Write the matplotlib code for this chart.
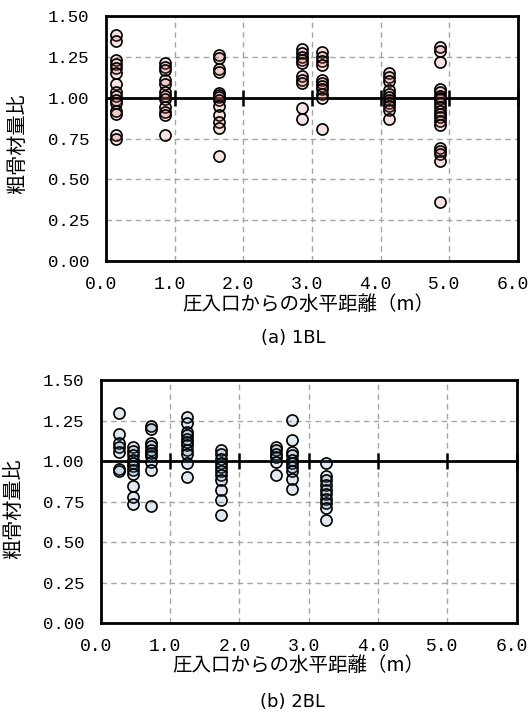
import matplotlib
matplotlib.use("Agg")
import matplotlib.pyplot as plt
import matplotlib.transforms as mtransforms
import numpy as np

plt.rcParams['font.family'] = ['Noto Sans CJK JP', 'DejaVu Sans']

# 1BL: x position of each measuring column and the ratios measured there
x_1bl = [0.15, 0.86, 1.65, 2.86, 3.14, 4.13, 4.86]
y_1bl = [
    [1.382, 1.348, 1.234, 1.209, 1.185, 1.152, 1.083, 1.037, 1.010, 0.986, 0.970, 0.921, 0.900, 0.772, 0.746],
    [1.213, 1.189, 1.173, 1.108, 1.087, 1.037, 1.010, 0.990, 0.945, 0.915, 0.894, 0.772],
    [1.260, 1.246, 1.179, 1.159, 1.030, 1.016, 1.002, 0.986, 0.949, 0.894, 0.854, 0.813, 0.644],
    [1.299, 1.274, 1.250, 1.230, 1.213, 1.132, 1.112, 1.091, 0.939, 0.868],
    [1.278, 1.250, 1.224, 1.203, 1.112, 1.091, 1.071, 1.051, 1.026, 1.000, 0.811],
    [1.152, 1.128, 1.102, 1.047, 1.026, 1.006, 0.986, 0.970, 0.949, 0.925, 0.872],
    [1.311, 1.285, 1.217, 1.055, 1.035, 1.014, 1.000, 0.990, 0.970, 0.945, 0.919, 0.900,
     0.884, 0.858, 0.831, 0.695, 0.675, 0.654, 0.614, 0.364],
]

# 2BL
x_2bl = [0.27, 0.46, 0.73, 1.25, 1.74, 2.53, 2.76, 3.25]
y_2bl = [
    [1.295, 1.168, 1.111, 1.086, 1.055, 0.953, 0.939],
    [1.086, 1.061, 1.035, 1.008, 0.988, 0.967, 0.943, 0.922, 0.844, 0.779, 0.734],
    [1.219, 1.199, 1.111, 1.090, 1.070, 1.049, 1.029, 0.994, 0.943, 0.721],
    [1.270, 1.234, 1.178, 1.158, 1.137, 1.117, 1.096, 1.070, 1.041, 0.988, 0.902],
    [1.070, 1.045, 1.014, 0.988, 0.963, 0.939, 0.912, 0.881, 0.824, 0.762, 0.666],
    [1.086, 1.066, 1.045, 1.025, 0.994, 0.912],
    [1.254, 1.131, 1.055, 1.035, 1.008, 0.988, 0.963, 0.939, 0.891, 0.830],
    [0.988, 0.906, 0.881, 0.850, 0.824, 0.795, 0.768, 0.738, 0.713, 0.635],
]

x_ticks = [0, 1, 2, 3, 4, 5, 6]
y_ticks = [0.0, 0.25, 0.5, 0.75, 1.0, 1.25, 1.5]
xlabel = "圧入口からの水平距離（m）"
ylabel = "粗骨材量比"


def draw_panel(ax, xs, ys, face):
    for x, col in zip(xs, ys):
        ax.scatter([x] * len(col), col, s=64, facecolors=[face], edgecolors='black',
                   linewidths=1.2, zorder=4)
    ax.set_xlim(0, 6)
    ax.set_ylim(0, 1.5)
    ax.set_xticks(x_ticks)
    ax.set_yticks(y_ticks)
    ax.set_xticklabels(["%.1f" % t for t in x_ticks], family='Liberation Mono', fontsize=13)
    ax.set_yticklabels(["%.2f" % t for t in y_ticks], family='Liberation Mono', fontsize=12.5)
    ax.tick_params(length=0)
    ax.tick_params(axis='x', pad=11)
    ax.tick_params(axis='y', pad=12)
    shift = mtransforms.ScaledTranslation(-0.05, 0, ax.figure.dpi_scale_trans)
    for lab in ax.get_xticklabels():
        lab.set_transform(lab.get_transform() + shift)
    for t in x_ticks[1:-1]:
        ax.axvline(t, color='#a6a6a6', lw=1, ls=(0, (4, 3)), zorder=1)
    for t in y_ticks[1:-1]:
        if t != 1.0:
            ax.axhline(t, color='#a6a6a6', lw=1, ls=(0, (4, 3)), zorder=1)
    ax.axhline(1.0, color='black', lw=2, zorder=3)
    ax.plot(x_ticks[1:], [1.0] * (len(x_ticks) - 1), ls='none', marker='|', ms=11,
            mew=1.8, color='black', zorder=3, clip_on=False)
    for sp in ax.spines.values():
        sp.set_linewidth(2)
        sp.set_color('black')


fig = plt.figure(figsize=(5.3, 7.2), dpi=100)

ax1 = fig.add_axes([0.2, 0.6375, 0.777, 0.340])
draw_panel(ax1, x_1bl, y_1bl, (0.78, 0.40, 0.36, 0.18))
fig.text(19 / 530, 1 - 144 / 720, ylabel, rotation=90, ha='center', va='center', fontsize=14.5)
fig.text(308 / 530, 1 - 304 / 720, xlabel, ha='center', va='center', fontsize=14)
fig.text(293 / 530, 1 - 338 / 720, "(a) 1BL", ha='center', va='center', fontsize=13,
         family=['Liberation Sans Narrow', 'DejaVu Sans'])

ax2 = fig.add_axes([0.19, 0.1347, 0.785, 0.3375])
draw_panel(ax2, x_2bl, y_2bl, (0.30, 0.47, 0.63, 0.17))
fig.text(15 / 530, 1 - 509 / 720, ylabel, rotation=90, ha='center', va='center', fontsize=14.5)
fig.text(298 / 530, 1 - 665 / 720, xlabel, ha='center', va='center', fontsize=14)
fig.text(292 / 530, 1 - 702 / 720, "(b) 2BL", ha='center', va='center', fontsize=13,
         family=['Liberation Sans Narrow', 'DejaVu Sans'])

fig.savefig("out.png", dpi=100)
